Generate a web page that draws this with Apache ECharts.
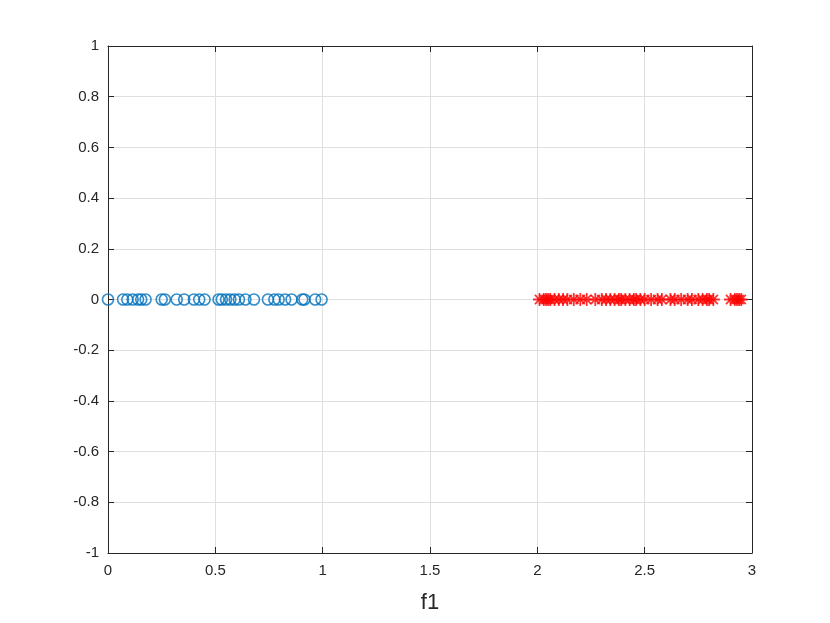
<!DOCTYPE html>
<html><head><meta charset="utf-8">
<script src="https://cdn.jsdelivr.net/npm/echarts@6/dist/echarts.min.js"></script>
<style>html,body{margin:0;padding:0;background:#fff}#c{width:830px;height:623px}</style>
</head><body><div id="c"></div>
<script>
const xTicks = [0, 0.5, 1, 1.5, 2, 2.5, 3];
const yTicks = [-1, -0.8, -0.6, -0.4, -0.2, 0, 0.2, 0.4, 0.6, 0.8, 1];
const class1X = [0, 0.07, 0.09, 0.115, 0.14, 0.155, 0.175, 0.25, 0.265, 0.32, 0.355, 0.40, 0.425, 0.45, 0.515, 0.53, 0.55, 0.57, 0.59, 0.61, 0.64, 0.68, 0.745, 0.775, 0.795, 0.825, 0.855, 0.905, 0.915, 0.965, 0.995];
const class1Y = class1X.map(() => 0);
const class2X = [2.01, 2.03, 2.04, 2.05, 2.06, 2.08, 2.10, 2.12, 2.14, 2.17, 2.20, 2.23, 2.27, 2.30, 2.32, 2.34, 2.36, 2.38, 2.39, 2.41, 2.43, 2.45, 2.46, 2.48, 2.50, 2.53, 2.56, 2.58, 2.62, 2.64, 2.67, 2.70, 2.72, 2.75, 2.77, 2.79, 2.80, 2.82, 2.90, 2.92, 2.93, 2.94, 2.95];
const class2Y = class2X.map(() => 0);

const chart = echarts.init(document.getElementById('c'));
const axisTxt = {color:'#262626', fontSize:15, fontFamily:'Liberation Sans, Arial, sans-serif'};
const lineStyle = {color:'#262626', width:1};
chart.setOption({
  animation:false,
  grid:{left:108, right:78, top:46, bottom:70, containLabel:false},
  xAxis:[{
    type:'value', min:0, max:3, interval:0.5,
    name:'f1', nameLocation:'middle', nameGap:39,
    nameTextStyle:{color:'#262626', fontSize:22, fontFamily:'Liberation Sans, Arial, sans-serif'},
    axisLine:{show:true, onZero:false, lineStyle},
    axisTick:{show:true, inside:true, length:6, lineStyle},
    axisLabel:Object.assign({margin:10, formatter:v=>String(v)}, axisTxt),
    splitLine:{show:true, lineStyle:{color:'#dfdfdf', width:1}}
  },{
    type:'value', min:0, max:3, interval:0.5, position:'top',
    axisLine:{show:true, onZero:false, lineStyle},
    axisTick:{show:true, inside:true, length:6, lineStyle},
    axisLabel:{show:false}, splitLine:{show:false}
  }],
  yAxis:[{
    type:'value', min:-1, max:1, interval:0.2,
    axisLine:{show:true, onZero:false, lineStyle},
    axisTick:{show:true, inside:true, length:6, lineStyle},
    axisLabel:Object.assign({margin:9, formatter:v=>String(Math.round(v*10)/10)}, axisTxt),
    splitLine:{show:true, lineStyle:{color:'#dfdfdf', width:1}}
  },{
    type:'value', min:-1, max:1, interval:0.2, position:'right',
    axisLine:{show:true, onZero:false, lineStyle},
    axisTick:{show:true, inside:true, length:6, lineStyle},
    axisLabel:{show:false}, splitLine:{show:false}
  }],
  series:[{
    type:'scatter',
    data:class1X.map((x,i)=>[x,class1Y[i]]),
    symbol:'circle', symbolSize:11,
    itemStyle:{color:'rgba(0,0,0,0)', borderColor:'#0072BD', borderWidth:1.6}
  },{
    type:'scatter',
    data:class2X.map((x,i)=>[x,class2Y[i]]),
    symbol:'path://M10,0L10,20M0,10L20,10M3,3L17,17M3,17L17,3',
    symbolSize:13,
    itemStyle:{color:'rgba(0,0,0,0)', borderColor:'#ff0000', borderWidth:1.8}
  }]
});
</script></body></html>
